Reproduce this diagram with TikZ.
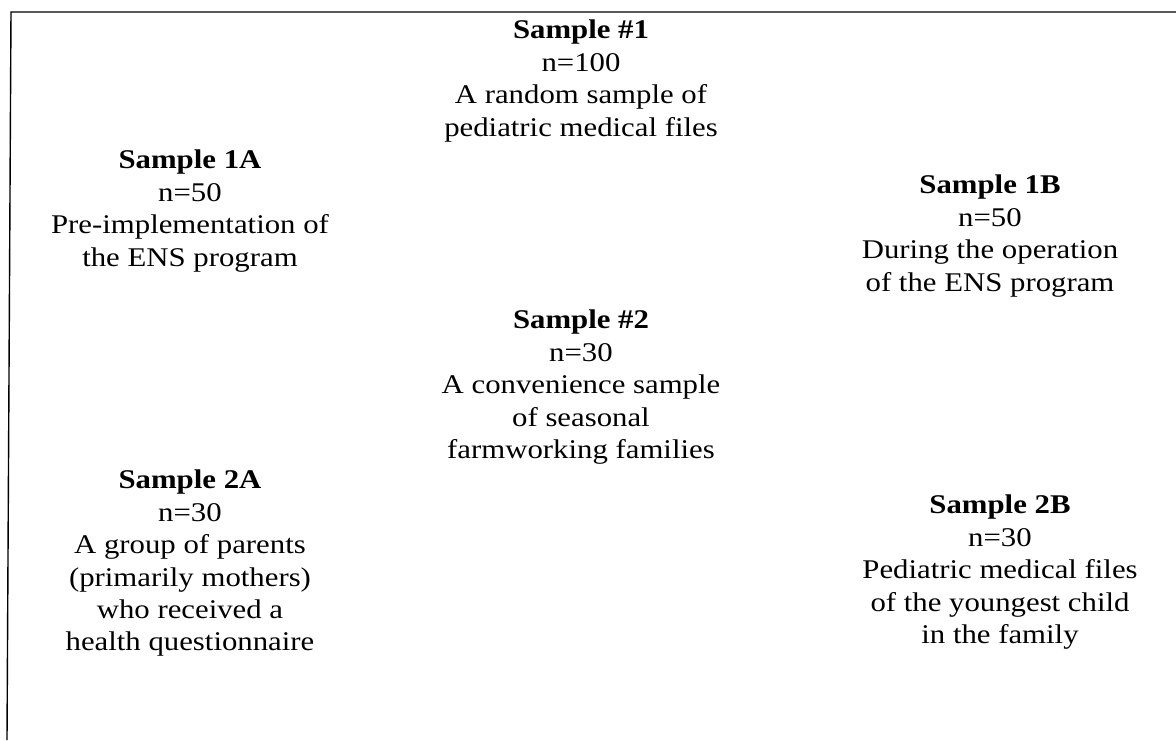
\documentclass[tikz,border=0pt]{standalone}
\usepackage{fontspec}
\setmainfont{Liberation Serif}[FakeStretch=1.14]
\begin{document}
\begin{tikzpicture}[x=1pt,y=-1pt,
  blk/.style={anchor=north,align=center,inner sep=0pt,font=\fontsize{27}{32.4}\selectfont},
  frame/.style={line width=1.4pt,black}]
\useasboundingbox (0,0) rectangle (1176,740);
\coordinate (tl) at (11,12);
\coordinate (tr) at (1176,12);
\coordinate (bl) at (7,740);
\draw[frame] (tr) -- (tl) -- (bl);
\node[blk] (s1) at (581,20) {\textbf{Sample \#1}\\n=100\\A random sample of\\pediatric medical files};
\node[blk] (s1a) at (190,150) {\textbf{Sample 1A}\\n=50\\Pre-implementation of\\the ENS program};
\node[blk] (s1b) at (990,175) {\textbf{Sample 1B}\\n=50\\During the operation\\of the ENS program};
\node[blk] (s2) at (581,310) {\textbf{Sample \#2}\\n=30\\A convenience sample\\of seasonal\\farmworking families};
\node[blk] (s2a) at (190,470) {\textbf{Sample 2A}\\n=30\\A group of parents\\(primarily mothers)\\who received a\\health questionnaire};
\node[blk] (s2b) at (1000,495) {\textbf{Sample 2B}\\n=30\\Pediatric medical files\\of the youngest child\\in the family};
\end{tikzpicture}
\end{document}
